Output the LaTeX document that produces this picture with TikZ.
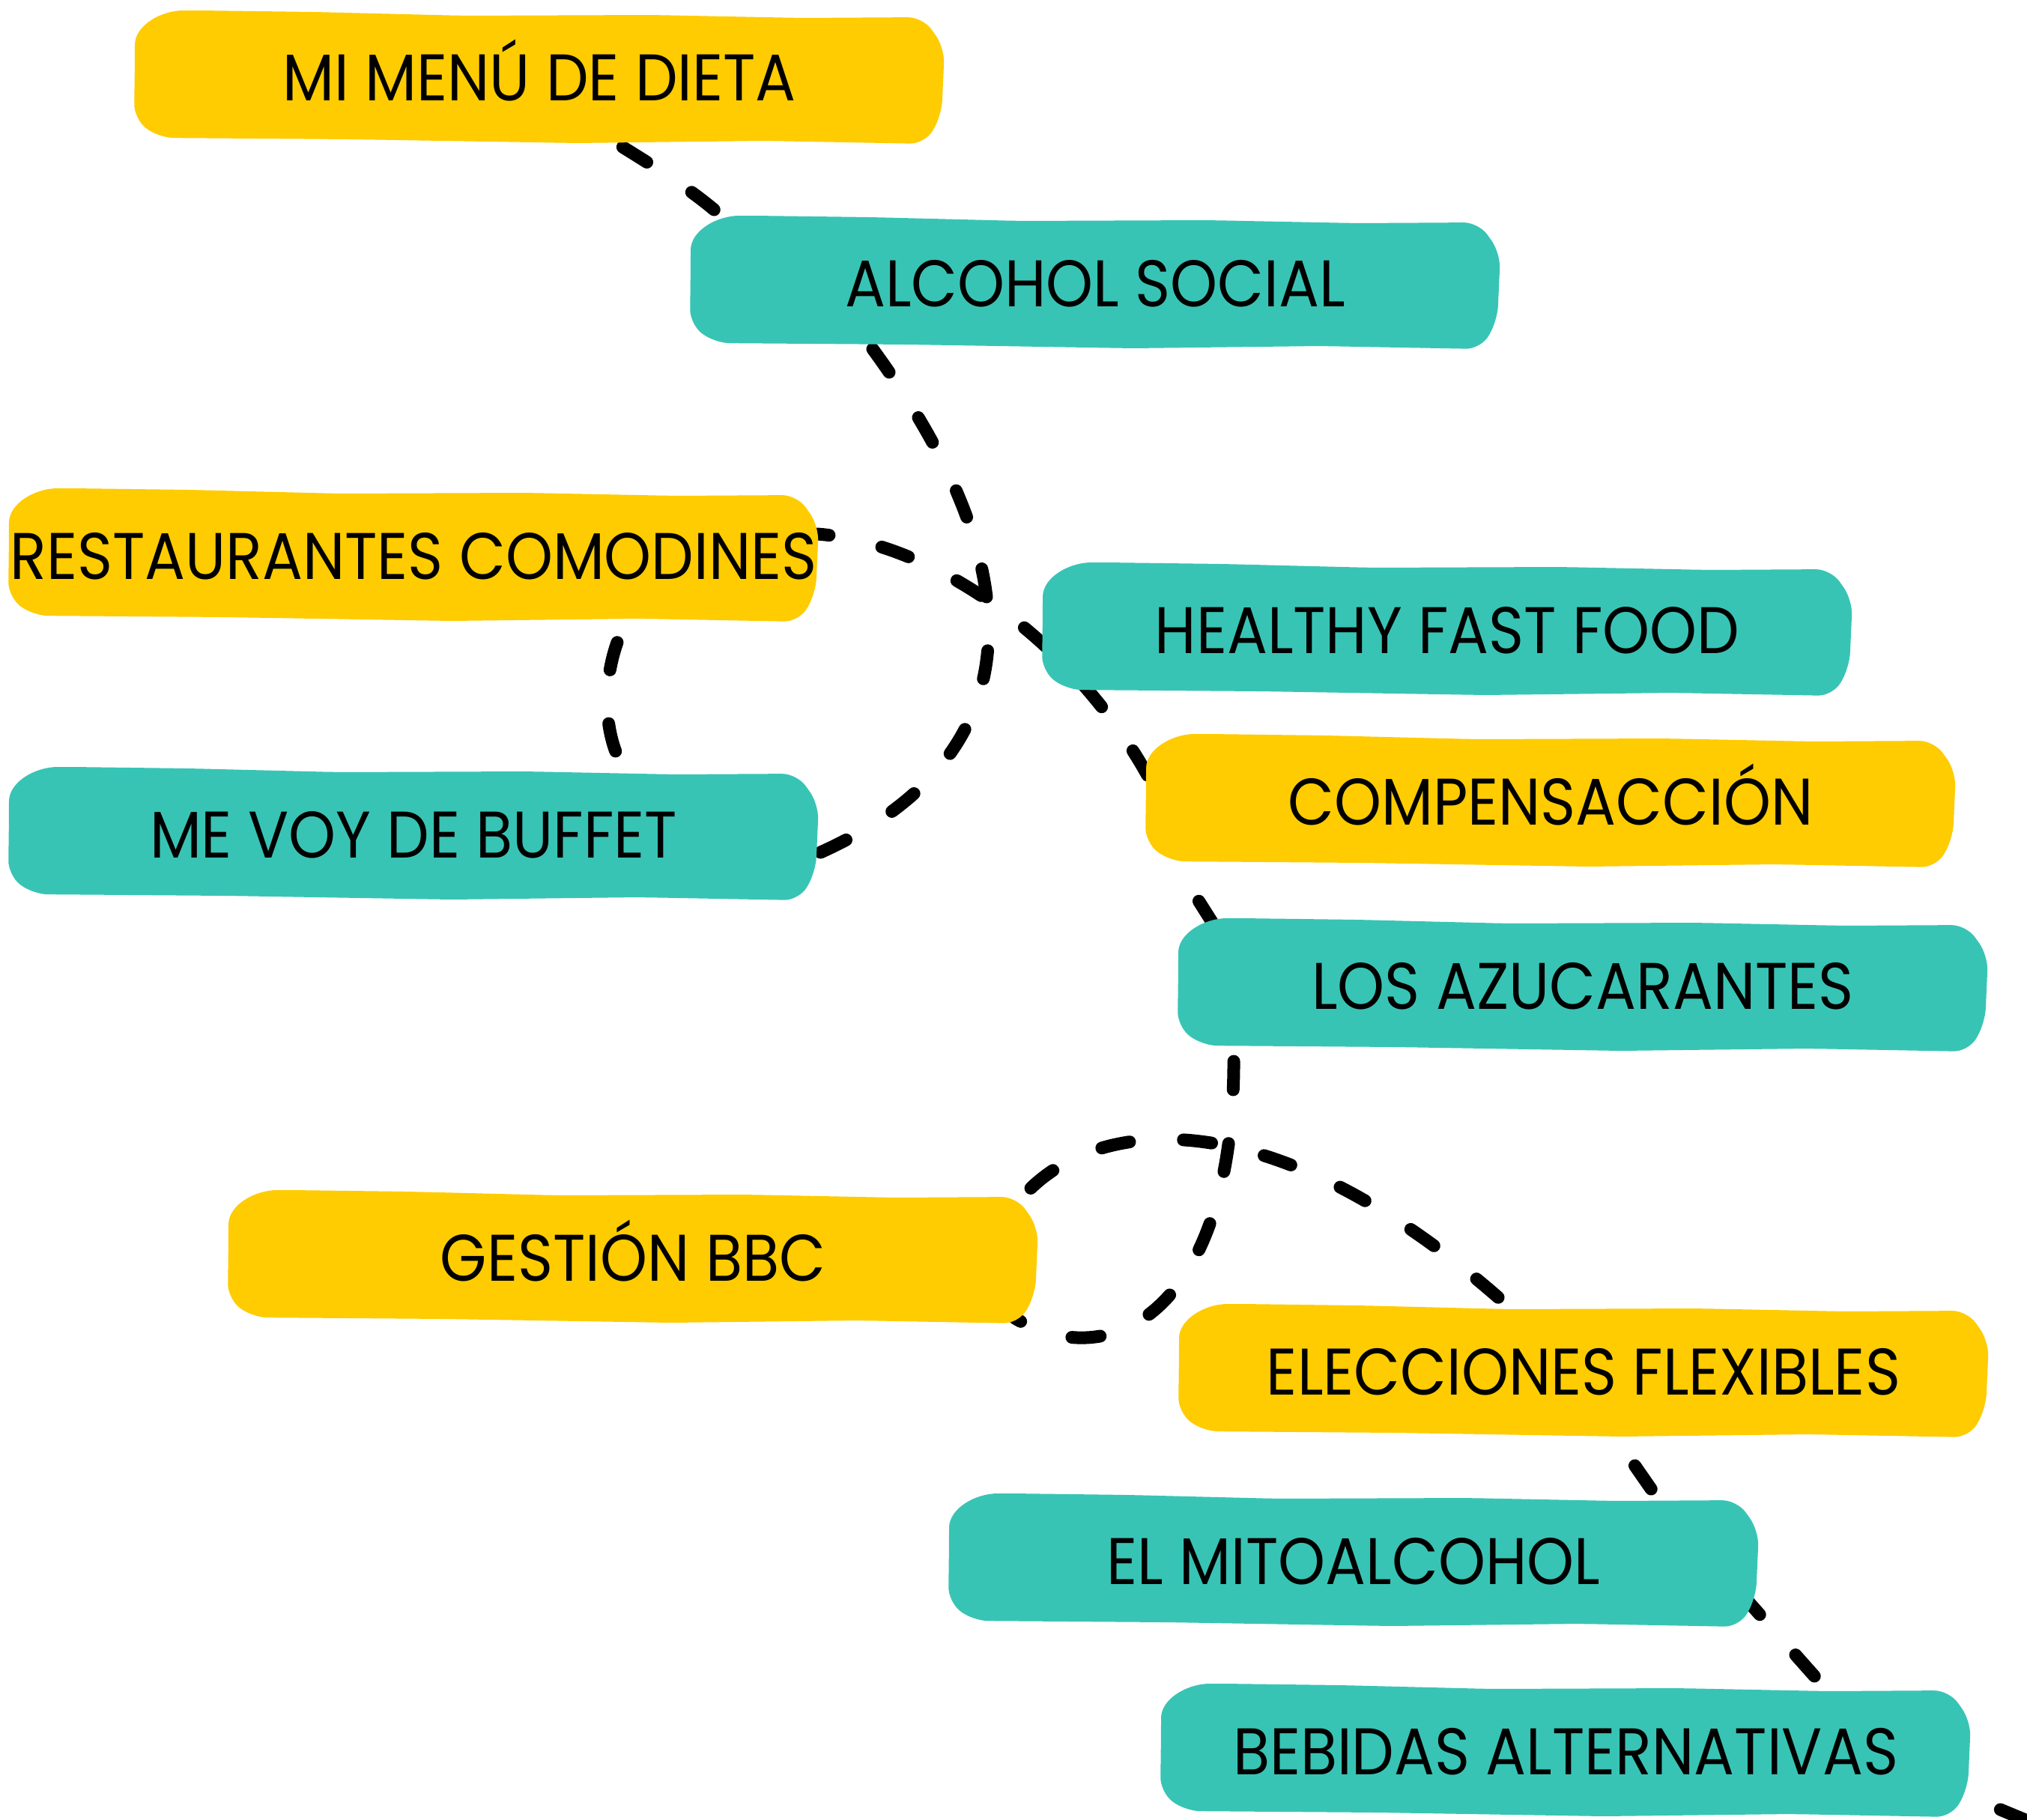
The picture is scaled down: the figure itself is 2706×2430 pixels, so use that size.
\documentclass[tikz,border=0pt]{standalone}
\usepackage{fontspec}
\usepackage{graphicx}
\newfontfamily\glacfont{Poppins}
\usetikzlibrary{calc}
\definecolor{myyellow}{HTML}{FECC00}
\definecolor{myteal}{HTML}{38C4B5}
\pgfdeclarelayer{lines}
\pgfdeclarelayer{blobs}
\pgfsetlayers{lines,blobs,main}
\newcommand\boxtxt[1]{\scalebox{0.91}[1]{#1}}
\newcommand\blobfill[2]{%
  \begin{scope}[shift={(#1.center)}]
    \fill[#2, rounded corners=20pt] (-541,55) -- (-540,-24) .. controls (-540,-70) and (-505,-90) .. (-455,-90) -- (-300,-88) -- (-100,-83) -- (150,-84) -- (350,-80) -- (512,-81) -- (541,-40) -- (537,50) -- (515,88) -- (300,84) -- (50,87) -- (-250,82) -- (-508,80) -- cycle;
  \end{scope}}
\begin{document}
\begin{tikzpicture}[x=1pt,y=-1pt,
  lbl/.style={inner sep=0pt, text height=62pt, text depth=0pt, font=\glacfont\fontsize{88}{100}\selectfont, text=black},
  conn/.style={line width=17pt, line cap=round, dash pattern=on 38pt off 72pt, black}]
\useasboundingbox (0,0) rectangle (2706,2430);
\clip (0,0) rectangle (2706,2430);
% nodes
\node[lbl] (menu) at (720,104) {\boxtxt{MI MENÚ DE DIETA}};
\node[lbl] (alc) at (1462,378) {\boxtxt{ALCOHOL SOCIAL}};
\node[lbl] (rest) at (552,742) {\boxtxt{RESTAURANTES COMODINES}};
\node[lbl] (hff) at (1932,841) {\boxtxt{HEALTHY FAST FOOD}};
\node[lbl] (comp) at (2070,1070) {\boxtxt{COMPENSACCIÓN}};
\node[lbl] (buf) at (552,1114) {\boxtxt{ME VOY DE BUFFET}};
\node[lbl] (azu) at (2113,1316) {\boxtxt{LOS AZUCARANTES}};
\node[lbl] (bbc) at (845,1679) {\boxtxt{GESTIÓN BBC}};
\node[lbl] (ele) at (2114,1831) {\boxtxt{ELECCIONES FLEXIBLES}};
\node[lbl] (mito) at (1807,2084) {\boxtxt{EL MITOALCOHOL}};
\node[lbl] (beb) at (2090,2338) {\boxtxt{BEBIDAS ALTERNATIVAS}};
\coordinate (offc) at (2800,2470);
% boxes
\begin{pgfonlayer}{blobs}
\blobfill{menu}{myyellow}
\blobfill{alc}{myteal}
\blobfill{rest}{myyellow}
\blobfill{hff}{myteal}
\blobfill{comp}{myyellow}
\blobfill{buf}{myteal}
\blobfill{azu}{myteal}
\blobfill{bbc}{myyellow}
\blobfill{ele}{myyellow}
\blobfill{mito}{myteal}
\blobfill{beb}{myteal}
\end{pgfonlayer}
% connectors
\begin{pgfonlayer}{lines}
\fill[white] (0,0) rectangle (2706,2430);
\draw[conn, dash phase=79pt] ($(menu)+(85,76)$) .. controls +(51,32) and +(-42,-43) .. ($(alc)+(-487,-78)$);
\draw[conn] ($(alc)+(-297,88)$) .. controls +(215,294) and +(294,-130) .. ($(buf)+(539,26)$);
\draw[conn, dash phase=22pt] ($(rest)+(539,-29)$) .. controls +(159,12) and +(-100,-190) .. ($(comp)+(-530,-20)$);
\draw[conn, dash phase=53pt] ($(comp)+(-500,85)$) -- ($(azu)+(-483,-66)$);
\draw[conn, dash phase=100pt] ($(azu)+(-466,91)$) .. controls +(3,333) and +(135,80) .. ($(bbc)+(510,81)$);
\draw[conn, dash phase=94pt] ($(bbc)+(520,-81)$) .. controls +(95,-108) and +(-320,-290) .. ($(ele)+(-94,-81)$);
\draw[conn, dash phase=53pt] ($(ele)+(36,79)$) -- ($(mito)+(411,-76)$);
\draw[conn, dash phase=107pt] ($(mito)+(515,41)$) -- ($(beb)+(350,-80)$);
\draw[conn, dash phase=50pt] ($(beb)+(525,55)$) -- (offc);
\draw[conn, dash phase=82pt] ($(rest)+(283,90)$) .. controls +(-30,58) and +(-35,-55) .. ($(buf)+(283,-84)$);
\end{pgfonlayer}
\end{tikzpicture}
\end{document}
